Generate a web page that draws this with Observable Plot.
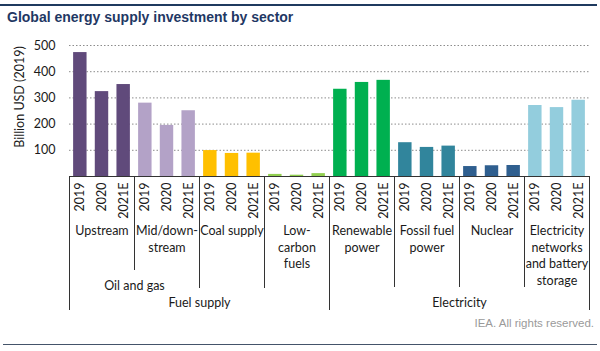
<!DOCTYPE html>
<html>
<head>
<meta charset="utf-8">
<script src="https://cdn.jsdelivr.net/npm/d3@7"></script>
<script src="https://cdn.jsdelivr.net/npm/@observablehq/plot@0.6"></script>
<style>
  body { margin: 0; width: 600px; height: 351px; position: relative; background: #fff; overflow: hidden; }
  #topline { position: absolute; left: 0; top: 4px; width: 597px; height: 2px; background: #1f3a5f; }
  #title { position: absolute; left: 7px; top: 9px; font: bold 14px "Liberation Sans", Arial, sans-serif; line-height: 16px; color: #1f3864; white-space: nowrap; }
  #chart { position: absolute; left: 0; top: 30px; }
  #ylabel { position: absolute; left: 20px; top: 97px; transform: translate(-50%, -50%) rotate(-90deg); font: 12.5px Lato, "Open Sans", sans-serif; color: #1a1a1a; white-space: nowrap; line-height: 14px; }
  #caption { position: absolute; right: 6px; top: 317px; font: 11.5px "Liberation Sans", Arial, sans-serif; color: #9a9a9a; }
  #bottomline { position: absolute; left: 3px; top: 344px; width: 594px; height: 1px; background: #44546a; }
</style>
</head>
<body>
<div id="topline"></div>
<div id="title">Global energy supply investment by sector</div>
<div id="chart"></div>
<div id="ylabel">Billion USD (2019)</div>
<div id="caption">IEA. All rights reserved.</div>
<div id="bottomline"></div>
<script>
// ---- data ----
const sectors = ["Upstream", "Mid/down-\nstream", "Coal supply", "Low-\ncarbon\nfuels",
                 "Renewable\npower", "Fossil fuel\npower", "Nuclear", "Electricity\nnetworks\nand battery\nstorage"];
const years = ["2019", "2020", "2021E"];
const upstream        = [473, 324, 351];
const midDownstream   = [280, 195, 251];
const coalSupply      = [99, 88, 89];
const lowCarbonFuels  = [8, 5, 11];
const renewablePower  = [333, 359, 367];
const fossilFuelPower = [129, 111, 116];
const nuclear         = [38, 41, 42];
const networksStorage = [271, 263, 291];
const sectorColors = ["#604a7b", "#b3a2c7", "#ffc000", "#92d050", "#00b050", "#31859c", "#2f5f8f", "#93cddd"];
const yTicks = [100, 200, 300, 400, 500];
const groupNames = ["Oil and gas", "Fuel supply", "Electricity"];
const groupSpans = [[0, 1], [0, 3], [4, 7]]; // first and last sector of each group

// ---- layout (pixels) ----
const W = 600, H = 285, mTop = 15, mBottom = 139, mLeft = 69, mRight = 11;
const unitsPerPx = 500 / (H - mBottom - mTop);
const sepLengthsPx = [134, 94, 112, 112, 134, 111, 111, 111, 134];

const series = [upstream, midDownstream, coalSupply, lowCarbonFuels, renewablePower, fossilFuelPower, nuclear, networksStorage];
const rows = series.flatMap((vals, s) => vals.map((v, j) => ({i: s * 3 + j, year: years[j], value: v, color: sectorColors[s]})));
const sectorRows = sectors.map((name, s) => ({x: s * 3 + 1, name}));
const seps = sepLengthsPx.map((len, s) => ({x: s * 3 - 0.5, len}));
const groups = groupNames.map((name, g) => ({name, x: (groupSpans[g][0] * 3 + groupSpans[g][1] * 3 + 2) / 2}));

const font = "Lato, 'Open Sans', sans-serif";
const ink = "#1a1a1a";

const chart = Plot.plot({
  width: W, height: H,
  marginTop: mTop, marginBottom: mBottom, marginLeft: mLeft, marginRight: mRight,
  style: {fontFamily: font, fontSize: "12.5px", color: ink, background: "transparent", overflow: "visible"},
  x: {domain: [-0.5, 23.5], axis: null},
  y: {domain: [0, 500], ticks: yTicks, tickSize: 0, tickPadding: 14, label: null},
  color: {type: "identity"},
  marks: [
    Plot.ruleY(yTicks, {stroke: "#8c8c8c", strokeDasharray: "1.5,2", strokeWidth: 1}),
    Plot.rect(rows, {x1: d => d.i - 0.31, x2: d => d.i + 0.31, y1: d => 0, y2: "value", fill: "color"}),
    Plot.ruleY([0], {stroke: "#333", strokeWidth: 1}),
    Plot.ruleX(seps, {x: "x", y1: d => 0, y2: d => -d.len * unitsPerPx, stroke: "#333", strokeWidth: 1}),
    Plot.text(rows, {x: "i", y: d => 0, text: "year", rotate: -90, textAnchor: "end", dy: 6, fill: ink, fontSize: 12.5}),
    Plot.text(sectorRows, {x: "x", y: d => 0, text: "name", lineAnchor: "top", lineHeight: 1.32, dy: 47, fill: ink, fontSize: 12.5}),
    Plot.text(groups.slice(0, 1), {x: "x", y: d => 0, text: "name", dy: 109, fill: ink, fontSize: 12.5}),
    Plot.text(groups.slice(1), {x: "x", y: d => 0, text: "name", dy: 126, fill: ink, fontSize: 12.5})
  ]
});
document.getElementById("chart").appendChild(chart);
</script>
</body>
</html>
